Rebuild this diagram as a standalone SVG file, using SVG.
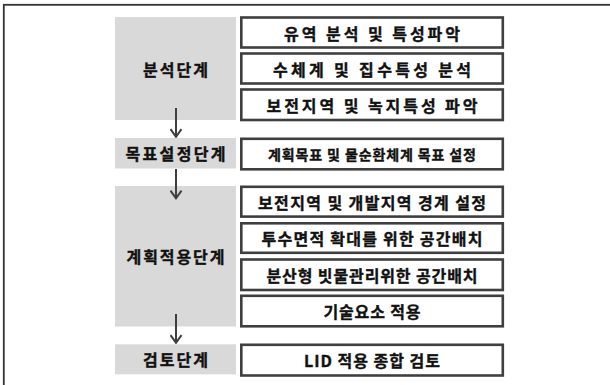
<svg xmlns="http://www.w3.org/2000/svg" width="610" height="385" viewBox="0 0 610 385">
<style>
.stage{fill:#d9d9d9;}
.box{fill:#ffffff;stroke:#3f3f3f;stroke-width:2.6;}
.t{font-family:"Noto Sans CJK KR","Noto Sans",sans-serif;font-weight:bold;fill:#111;stroke:#111;stroke-width:0.35;text-anchor:middle;dominant-baseline:central;}
.r{font-size:16px;}
.s{font-size:14px;}
.l{font-size:16px;}
.conn{stroke:#3f3f3f;stroke-width:2;fill:none;}
</style>
<defs>
<marker id="ah" markerWidth="10" markerHeight="13" refX="9" refY="6.5" orient="auto" markerUnits="userSpaceOnUse" viewBox="0 0 10 13">
<path d="M1.2,1 L8.8,6.5 L1.2,12" fill="none" stroke="#3f3f3f" stroke-width="2"/>
</marker>
</defs>
<rect x="3.8" y="4.8" width="620" height="400" fill="#ffffff" stroke="#333333" stroke-width="1.8"/>

<g id="stage-analysis">
<rect class="stage" x="115" y="17" width="121" height="103"/>
<text class="t l" x="175.5" y="68.5" textLength="65" lengthAdjust="spacing">분석단계</text>
</g>
<g id="analysis-1">
<rect class="box" x="241.3" y="17.5" width="261.5" height="30"/>
<text class="t r" x="372" y="32.5" textLength="176" lengthAdjust="spacing">유역 분석 및 특성파악</text>
</g>
<g id="analysis-2">
<rect class="box" x="241.3" y="53.5" width="261.5" height="30"/>
<text class="t r" x="372" y="68.5" textLength="198" lengthAdjust="spacing">수체계 및 집수특성 분석</text>
</g>
<g id="analysis-3">
<rect class="box" x="241.3" y="89.5" width="261.5" height="30.5"/>
<text class="t r" x="372" y="104.8" textLength="211" lengthAdjust="spacing">보전지역 및 녹지특성 파악</text>
</g>

<g id="stage-goal">
<rect class="stage" x="115" y="138" width="121" height="30.5"/>
<text class="t l" x="175.5" y="153.3" textLength="100" lengthAdjust="spacing">목표설정단계</text>
</g>
<g id="goal-1">
<rect class="box" x="241.3" y="138.8" width="261.5" height="30.5"/>
<text class="t s" x="372" y="154" textLength="208" lengthAdjust="spacing">계획목표 및 물순환체계 목표 설정</text>
</g>

<g id="stage-apply">
<rect class="stage" x="115" y="186" width="121" height="140.5"/>
<text class="t l" x="175.5" y="255.5" textLength="98" lengthAdjust="spacing">계획적용단계</text>
</g>
<g id="apply-1">
<rect class="box" x="241.3" y="186.8" width="261.5" height="29.8"/>
<text class="t r" x="372" y="201.7" textLength="228" lengthAdjust="spacing">보전지역 및 개발지역 경계 설정</text>
</g>
<g id="apply-2">
<rect class="box" x="241.3" y="223.3" width="261.5" height="29.5"/>
<text class="t r" x="372" y="238" textLength="221" lengthAdjust="spacing">투수면적 확대를 위한 공간배치</text>
</g>
<g id="apply-3">
<rect class="box" x="241.3" y="259.5" width="261.5" height="30.5"/>
<text class="t r" x="372" y="274.8" textLength="211" lengthAdjust="spacing">분산형 빗물관리위한 공간배치</text>
</g>
<g id="apply-4">
<rect class="box" x="241.3" y="295.8" width="261.5" height="30.5"/>
<text class="t r" x="372" y="311" textLength="97" lengthAdjust="spacing">기술요소 적용</text>
</g>

<g id="stage-review">
<rect class="stage" x="115" y="344.3" width="121" height="30"/>
<text class="t l" x="175.5" y="359.3" textLength="65" lengthAdjust="spacing">검토단계</text>
</g>
<g id="review-1">
<rect class="box" x="241.3" y="344.8" width="261.5" height="30.7"/>
<text class="t r" x="372" y="360.2" textLength="136" lengthAdjust="spacing">LID 적용 종합 검토</text>
</g>

<g id="connectors">
<line class="conn" x1="176" y1="108" x2="176" y2="137" marker-end="url(#ah)"/>
<line class="conn" x1="176" y1="169" x2="176" y2="198.5" marker-end="url(#ah)"/>
<line class="conn" x1="176" y1="314" x2="176" y2="343" marker-end="url(#ah)"/>
</g>
</svg>
